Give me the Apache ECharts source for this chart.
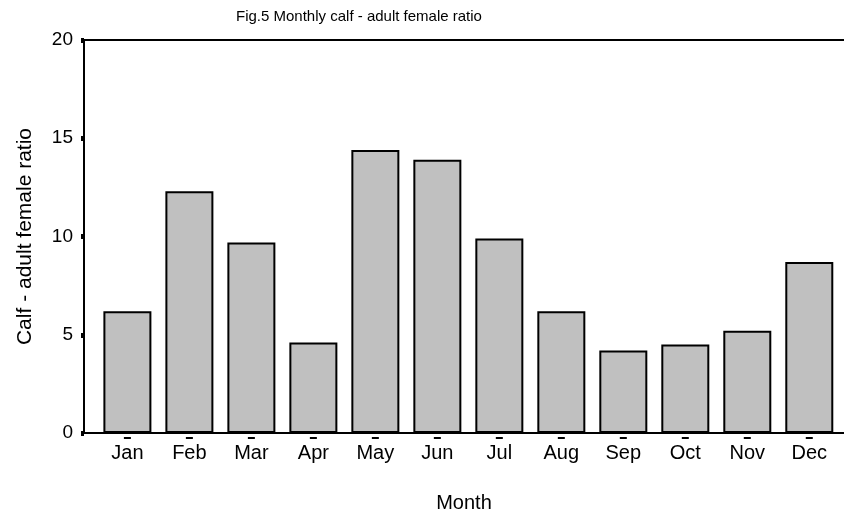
<!DOCTYPE html>
<html lang="en" style="height: 100%">

<head>
    <meta charset="utf-8" />
    <script src="https://cdn.jsdelivr.net/npm/echarts@6/dist/echarts.min.js"></script>
</head>

<body style="height: 100%; margin: 0; background: #fff">
    <div id="container" style="width: 844px;height: 514px;"></div>
    <script type="text/javascript">
        var dom = document.getElementById('container');
        var myChart = echarts.init(dom, null, { renderer: 'canvas' });

        // data
        const months = ['Jan', 'Feb', 'Mar', 'Apr', 'May', 'Jun', 'Jul', 'Aug', 'Sep', 'Oct', 'Nov', 'Dec'];
        const ratio = [6.2, 12.3, 9.7, 4.6, 14.4, 13.9, 9.9, 6.2, 4.2, 4.5, 5.2, 8.7];
        const yTicks = [0, 5, 10, 15, 20];

        const font = 'Liberation Sans, Arial, sans-serif';
        const monthIdx = months.map(function (m, i) { return i; });

        var option = {
            backgroundColor: '#fff',
            animation: false,
            title: {
                text: 'Fig.5 Monthly calf - adult female ratio',
                left: 231,
                top: 4,
                textStyle: { fontFamily: font, fontSize: 15, fontWeight: 'normal', color: '#000' }
            },
            grid: { left: 84, right: 0, top: 40, bottom: 81, outerBoundsMode: 'none', containLabel: false },
            xAxis: [{
                type: 'value',
                min: -0.7,
                max: 11.56,
                name: 'Month',
                nameLocation: 'middle',
                nameGap: 60,
                nameTextStyle: { fontFamily: font, fontSize: 20, color: '#000' },
                axisLine: { show: true, onZero: false, lineStyle: { color: '#000', width: 2 } },
                axisTick: { show: false },
                splitLine: { show: false },
                axisLabel: {
                    customValues: monthIdx,
                    margin: 4,
                    formatter: function (v) { return '{d| }\n{m|' + months[Math.round(v)] + '}'; },
                    rich: {
                        d: { width: 7, height: 2, lineHeight: 2, backgroundColor: '#000', fontSize: 1 },
                        m: { fontFamily: font, fontSize: 20, color: '#000', lineHeight: 24, padding: [5, 0, 0, 0] }
                    }
                }
            }, {
                type: 'value',
                position: 'top',
                min: 0,
                max: 1,
                axisLine: { show: true, onZero: false, lineStyle: { color: '#000', width: 2 } },
                axisTick: { show: false },
                axisLabel: { show: false },
                splitLine: { show: false }
            }],
            yAxis: {
                type: 'value',
                min: yTicks[0],
                max: yTicks[yTicks.length - 1],
                interval: 5,
                name: 'Calf - adult female ratio',
                nameLocation: 'middle',
                nameGap: 48,
                nameTextStyle: { fontFamily: font, fontSize: 21, color: '#000' },
                axisLine: { show: true, onZero: false, lineStyle: { color: '#000', width: 2 } },
                axisTick: { show: true, length: 3, lineStyle: { color: '#000', width: 5 } },
                axisLabel: { fontFamily: font, fontSize: 19, color: '#000', margin: 11 },
                splitLine: { show: false }
            },
            series: [{
                type: 'bar',
                xAxisIndex: 0,
                barWidth: 48,
                itemStyle: { color: '#c0c0c0', borderColor: '#000', borderWidth: 2 },
                data: ratio.map(function (v, i) { return [i, v]; })
            }]
        };

        myChart.setOption(option);
        window.addEventListener('resize', myChart.resize);
    </script>
</body>

</html>
